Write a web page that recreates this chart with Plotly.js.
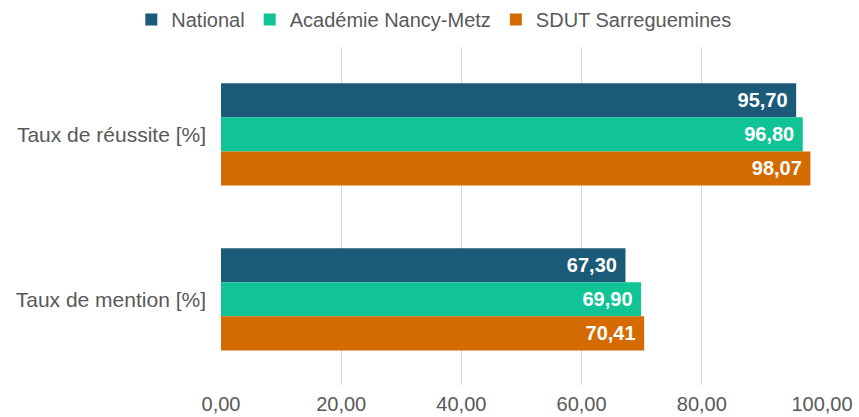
<!DOCTYPE html>
<html><head><meta charset="utf-8">
<script src="https://cdn.plot.ly/plotly-3.0.1.min.js"></script>
<style>html,body{margin:0;padding:0;background:#fff}#chart{width:859px;height:417px}</style>
</head><body><div id="chart"></div>
<script>
const categories = ["Taux de réussite [%]", "Taux de mention [%]"];
const seriesNames = ["National", "Académie Nancy-Metz", "SDUT Sarreguemines"];
const national = [95.70, 67.30];
const academie = [96.80, 69.90];
const sdut = [98.07, 70.41];
const xTicks = [0, 20, 40, 60, 80, 100];
const colors = ["#1b5a78", "#10c495", "#d46b00"];
const values = [national, academie, sdut];
const FONT = "'Liberation Sans', Arial, sans-serif";

const traces = values.map((v, i) => ({
  type: "bar", orientation: "h", name: seriesNames[i],
  y: categories, x: v,
  marker: {color: colors[i]},
  texttemplate: "%{x:.2f}\u00a0", textposition: "inside", insidetextanchor: "end",
  textfont: {color: "#ffffff", size: 20, family: FONT, weight: "bold"},
  hoverinfo: "x+name"
}));

const layout = {
  width: 859, height: 417,
  margin: {l: 221, r: 37, t: 47, b: 32},
  separators: ", ",
  font: {family: FONT, color: "#595959", size: 20},
  barmode: "group", bargap: 0.38, bargroupgap: 0,
  showlegend: true,
  legend: {orientation: "h", x: 0.505, xref: "container", xanchor: "center", y: 1, yref: "container", yanchor: "top", font: {size: 20, color: "#595959", family: FONT}, itemwidth: 30},
  xaxis: {range: [0, 100], tickvals: xTicks, tickformat: ".2f", showgrid: true, gridcolor: "#d9d9d9", zeroline: false, showline: false, ticks: "", ticklabelstandoff: 5, tickfont: {size: 20, color: "#595959", family: FONT}},
  yaxis: {range: [1.52, -0.53], showline: false, ticks: "", ticklabelstandoff: 14, tickfont: {size: 21, color: "#595959", family: FONT}},
  plot_bgcolor: "#ffffff", paper_bgcolor: "#ffffff"
};
Plotly.newPlot("chart", traces, layout, {displayModeBar: false});
</script></body></html>
